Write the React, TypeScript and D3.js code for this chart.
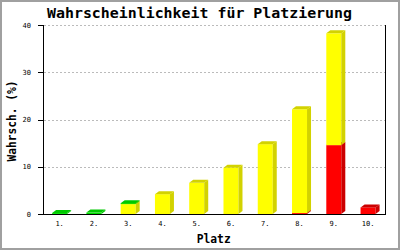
import React from "react";
import * as d3 from "d3";

const categories = ["1.", "2.", "3.", "4.", "5.", "6.", "7.", "8.", "9.", "10."];
const redValues = [0, 0, 0, 0, 0, 0, 0, 0.2, 14.6, 1.4];
const yellowValues = [0, 0, 2.1, 4.2, 6.6, 9.8, 14.8, 22.0, 23.7, 0];
const greenValues = [0.2, 0.3, 0.2, 0, 0, 0, 0, 0, 0, 0];
const yTicks = [0, 10, 20, 30, 40];

const series = [
  { name: "red", values: redValues, front: "#FF0000", side: "#CC0000" },
  { name: "yellow", values: yellowValues, front: "#FFFF00", side: "#D2D200" },
  { name: "green", values: greenValues, front: "#00E000", side: "#00C800" },
];

const W = 400;
const H = 250;
const left = 43;
const right = 385.7;
const bottom = 214;
const top = 25.3;
const DX = 4;
const DY = 3;

export default function App() {
  const x = d3.scaleBand<string>().domain(categories).range([left, right]).padding(0);
  const y = d3.scaleLinear().domain([0, 40]).range([bottom, top]);
  const stack = d3
    .stack<number>()
    .keys(series.map((_, i) => String(i)))
    .value((d, key) => series[+key].values[d]);
  const stacked = stack(categories.map((_, i) => i));

  const mono = "'DejaVu Sans Mono', monospace";

  const bars: React.ReactNode[] = [];
  categories.forEach((c, ci) => {
    const cx = (x(c) as number) + x.bandwidth() / 2;
    const x0 = cx - 8;
    const x1 = cx + 7;
    stacked.forEach((layer, si) => {
      const [v0, v1] = layer[ci];
      if (v1 - v0 <= 0) return;
      const yb = y(v0);
      const yt = y(v1);
      const s = series[si];
      bars.push(
        <g key={`${ci}-${si}`}>
          <rect x={x0} y={yt} width={x1 - x0} height={yb - yt} fill={s.front} />
          <polygon
            points={`${x1},${yt} ${x1 + DX},${yt - DY} ${x1 + DX},${yb - DY} ${x1},${yb}`}
            fill={s.side}
          />
          <polygon
            points={`${x0},${yt} ${x0 + DX},${yt - DY} ${x1 + DX},${yt - DY} ${x1},${yt}`}
            fill={s.side}
          />
        </g>
      );
    });
  });

  return (
    <svg
      width={W}
      height={H}
      style={{ position: "absolute", left: 0, top: 0, display: "block" }}
      xmlns="http://www.w3.org/2000/svg"
    >
      <rect x={0} y={0} width={W} height={H} fill="#FFFFFF" />
      <rect x={1} y={1} width={W - 2} height={H - 2} fill="none" stroke="#A0A0A0" strokeWidth={2} />
      <text
        x={47}
        y={17.5}
        fontFamily={mono}
        fontWeight="bold"
        fontSize={14}
        textLength={305}
        lengthAdjust="spacingAndGlyphs"
        fill="#000"
      >
        Wahrscheinlichkeit für Platzierung
      </text>
      {yTicks
        .filter((t) => t > 0)
        .map((t) => (
          <line
            key={`g${t}`}
            x1={left + 1}
            x2={right}
            y1={Math.round(y(t)) + 0.5}
            y2={Math.round(y(t)) + 0.5}
            stroke="#BBBBBB"
            strokeDasharray="2,2"
            shapeRendering="crispEdges"
          />
        ))}
      {bars}
      <line x1={left + 0.5} x2={left + 0.5} y1={top} y2={bottom + 1} stroke="#000" shapeRendering="crispEdges" />
      <line x1={right} x2={right} y1={top} y2={bottom + 1} stroke="#000" shapeRendering="crispEdges" />
      <line x1={left} x2={right + 0.5} y1={bottom + 0.5} y2={bottom + 0.5} stroke="#000" shapeRendering="crispEdges" />
      {yTicks.map((t) => (
        <g key={`t${t}`}>
          <line
            x1={38}
            x2={left}
            y1={Math.round(y(t)) + 0.5}
            y2={Math.round(y(t)) + 0.5}
            stroke="#000"
            shapeRendering="crispEdges"
          />
          <text x={31} y={y(t) + 2.6} textAnchor="end" fontFamily={mono} fontSize={7} fill="#000">
            {t}
          </text>
        </g>
      ))}
      {categories.map((c) => (
        <text
          key={`l${c}`}
          x={(x(c) as number) + x.bandwidth() / 2 - 0.5}
          y={226}
          textAnchor="middle"
          fontFamily={mono}
          fontSize={7}
          fill="#000"
        >
          {c}
        </text>
      ))}
      <text
        x={213.7}
        y={242.5}
        textAnchor="middle"
        fontFamily={mono}
        fontWeight="bold"
        fontSize={12}
        textLength={34}
        lengthAdjust="spacingAndGlyphs"
        fill="#000"
      >
        Platz
      </text>
      <text
        transform="translate(16,121) rotate(-90)"
        textAnchor="middle"
        fontFamily={mono}
        fontWeight="bold"
        fontSize={11.5}
        textLength={81}
        lengthAdjust="spacingAndGlyphs"
        fill="#000"
      >
        Wahrsch. (%)
      </text>
    </svg>
  );
}
